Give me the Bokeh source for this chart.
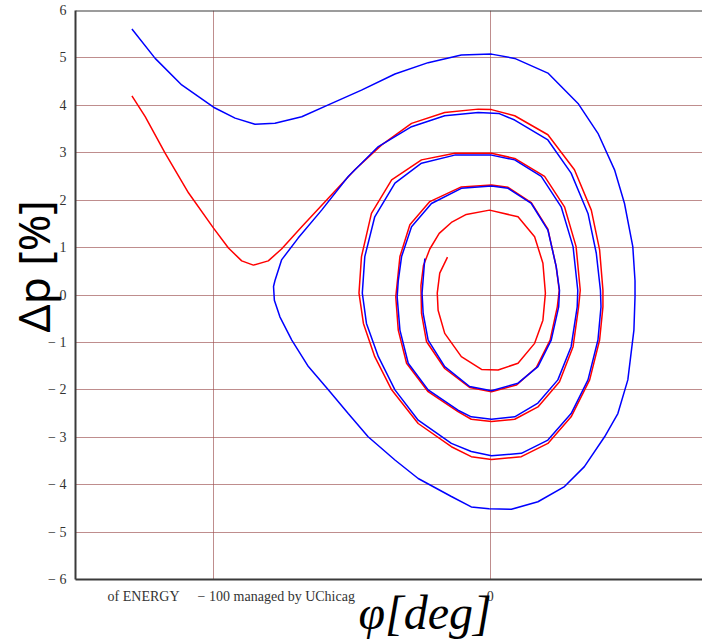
from bokeh.plotting import figure
from bokeh.models import FixedTicker, Span, Range1d
from bokeh.embed import file_html
from bokeh.resources import INLINE

# ---- data (phi in deg, dp in %) ----
phi_blue = [-129.6, -121.2, -111.6, -100.1, -92.3, -85.1, -77.9, -68.2, -58.6, -46.6, -34.5, -22.5, -10.5, 0.4,
            8.8, 20.8, 31.7, 38.9, 44.9, 48.5, 51.5, 52.3, 52.3, 51.9, 49.7, 46.1, 41.3, 34.0, 26.8, 17.2, 7.6, -0.5,
            -6.9, -14.1, -26.1, -34.5, -44.2, -51.4, -58.6, -65.8, -71.8, -76.1, -78.1, -78.4, -77.9, -75.5, -69.5,
            -61.0, -51.4, -40.5, -28.5, -16.5, -4.4, 3.0, 8.8, 20.8, 29.2, 35.3, 38.3, 39.8, 40.0, 38.9, 35.3, 29.2,
            20.8, 11.2, 0.4, -6.9, -14.1, -26.1, -34.5, -40.5, -44.8, -46.3, -45.4, -41.8, -34.5, -24.9, -12.9, 0.4,
            8.8, 18.4, 25.6, 29.9, 31.6, 31.4, 29.2, 24.4, 17.2, 8.8, 0.4, -6.9, -11.7, -22.5, -29.7, -32.7, -33.7,
            -33.3, -32.1, -28.5, -21.3, -10.5, 0.4, 6.4, 14.8, 20.8, 23.8, 25.0, 24.7, 22.0, 17.2, 10.0, 0.4, -7.5,
            -16.5, -22.5, -24.3, -24.7, -23.7]
dp_blue = [5.61, 4.99, 4.43, 3.96, 3.73, 3.60, 3.62, 3.76, 4.01, 4.32, 4.66, 4.90, 5.06, 5.08,
           4.99, 4.68, 4.04, 3.41, 2.64, 1.93, 1.02, 0.30, -0.04, -0.74, -1.79, -2.50, -2.99, -3.62, -4.04, -4.36, -4.52, -4.51,
           -4.47, -4.25, -3.87, -3.48, -2.99, -2.50, -2.00, -1.51, -0.95, -0.46, -0.11, 0.18, 0.30, 0.74, 1.20,
           1.79, 2.50, 3.13, 3.55, 3.78, 3.85, 3.83, 3.69, 3.27, 2.57, 1.72, 0.88, 0.10, -0.25, -0.95, -1.79, -2.50,
           -3.06, -3.34, -3.39, -3.30, -3.13, -2.64, -2.00, -1.30, -0.60, 0.04, 0.81, 1.65, 2.36, 2.78, 2.95, 2.95,
           2.85, 2.50, 1.86, 1.02, 0.10, -0.25, -1.09, -1.79, -2.28, -2.57, -2.62, -2.57, -2.43, -2.00, -1.44, -0.74, -0.04,
           0.30, 0.81, 1.44, 1.93, 2.25, 2.30, 2.25, 1.93, 1.37, 0.60, 0.10, -0.25, -0.95, -1.51, -1.86, -2.02, -1.93,
           -1.51, -0.95, -0.39, 0.04, 0.77]

phi_red = [-129.6, -124.8, -117.6, -109.1, -100.1, -94.7, -89.9, -85.7, -80.3, -75.5, -68.2, -58.6, -49.0, -39.4,
           -28.5, -16.5, -4.4, 0.4, 8.8, 20.8, 30.4, 36.5, 39.5, 40.7, 40.7, 39.5, 35.9, 29.2, 20.8, 11.2, 0.4, -6.9,
           -14.1, -26.1, -35.7, -41.8, -45.9, -47.5, -46.6, -43.0, -35.7, -24.9, -12.9, 0.4, 8.8, 19.6, 26.8, 31.0,
           32.5, 31.9, 29.9, 25.0, 17.2, 8.8, 0.4, -6.9, -11.7, -22.5, -30.3, -33.3, -34.2, -32.7, -29.1, -21.9, -10.5,
           0.4, 6.4, 14.8, 20.8, 23.8, 24.9, 24.2, 21.6, 16.6, 9.4, 0.4, -7.5, -16.5, -23.1, -24.9, -25.1, -24.2,
           -21.9, -18.5, -14.1, -8.7, -0.3, 10.0, 16.0, 19.0, 19.9, 19.0, 16.0, 10.0, 2.8, -3.2, -10.5, -16.5, -18.9,
           -19.2, -18.3, -15.5]
dp_red = [4.20, 3.76, 2.99, 2.15, 1.41, 0.99, 0.72, 0.63, 0.72, 0.97, 1.44, 2.04, 2.64, 3.16,
          3.62, 3.85, 3.92, 3.91, 3.78, 3.38, 2.64, 1.79, 0.95, 0.10, -0.25, -0.95, -1.79, -2.57, -3.13, -3.41, -3.47, -3.41,
          -3.20, -2.71, -2.00, -1.30, -0.60, 0.04, 0.81, 1.72, 2.43, 2.85, 2.99, 2.99, 2.88, 2.50, 1.86, 1.02,
          0.10, -0.25, -1.09, -1.83, -2.36, -2.62, -2.67, -2.62, -2.46, -2.04, -1.44, -0.74, -0.04, 0.81, 1.48, 1.97, 2.28,
          2.32, 2.27, 1.95, 1.39, 0.60, 0.10, -0.25, -0.95, -1.53, -1.90, -2.04, -1.95, -1.55, -0.98, -0.39, 0.20, 0.62,
          0.97, 1.30, 1.53, 1.70, 1.79, 1.65, 1.23, 0.67, 0.04, -0.53, -1.02, -1.44, -1.58, -1.57, -1.30, -0.81, -0.32,
          0.04, 0.46, 0.80]

y_ticks = [-6, -5, -4, -3, -2, -1, 0, 1, 2, 3, 4, 5, 6]
y_tick_labels = ["− 6", "− 5", "− 4", "− 3", "− 2", "− 1", "0", "1", "2", "3", "4", "5", "6"]
x_ticks = [-125.4, -100, -70.9, 0]
x_tick_labels = ["of ENERGY", "− 100", "managed by UChicag", "0"]
grid_x = [-100, 0]

NBSP = "\u00a0"
x_title = NBSP * 6 + "φ[deg]"
y_title = NBSP * 5 + "Δp [%]"

p = figure(width=702, height=641, output_backend="svg", toolbar_location=None,
           x_range=Range1d(-150, 76.7), y_range=Range1d(-6, 6),
           min_border_left=74, min_border_right=0, min_border_top=10, min_border_bottom=62)
p.outline_line_color = None
p.background_fill_color = "white"
p.border_fill_color = "white"

for ax in (p.xaxis[0], p.yaxis[0]):
    ax.axis_line_color = "#3a3a3a"
    ax.axis_line_width = 2
    ax.major_tick_line_color = None
    ax.minor_tick_line_color = None
    ax.major_label_text_font = "Liberation Serif"
    ax.major_label_text_font_size = "14px"
    ax.major_label_text_color = "#333333"
    ax.major_label_standoff = 3

p.yaxis[0].ticker = FixedTicker(ticks=y_ticks)
p.yaxis[0].major_label_overrides = {t: s for t, s in zip(y_ticks, y_tick_labels)}
p.xaxis[0].ticker = FixedTicker(ticks=x_ticks)
p.xaxis[0].major_label_overrides = {t: s for t, s in zip(x_ticks, x_tick_labels)}

p.yaxis[0].axis_label = y_title
p.yaxis[0].axis_label_text_font = "Noto Sans"
p.yaxis[0].axis_label_text_font_style = "normal"
p.yaxis[0].axis_label_text_font_size = "44px"
p.yaxis[0].axis_label_text_color = "black"
p.yaxis[0].axis_label_standoff = -18

p.xaxis[0].axis_label = x_title
p.xaxis[0].axis_label_text_font = "Liberation Serif"
p.xaxis[0].axis_label_text_font_style = "italic"
p.xaxis[0].axis_label_text_font_size = "48px"
p.xaxis[0].axis_label_text_color = "black"
p.xaxis[0].axis_label_standoff = -21

p.ygrid[0].ticker = FixedTicker(ticks=y_ticks)
p.xgrid[0].ticker = FixedTicker(ticks=grid_x)
for g in (p.xgrid[0], p.ygrid[0]):
    g.grid_line_color = "#9c5050"
    g.grid_line_alpha = 0.65
    g.grid_line_width = 1

p.add_layout(Span(location=6, dimension="width", line_color="#3a3a3a", line_width=2))

p.line(phi_red, dp_red, line_color="#ff0000", line_width=1.5)
p.line(phi_blue, dp_blue, line_color="#0000ff", line_width=1.5)

open("out.html", "w").write(file_html(p, INLINE))
